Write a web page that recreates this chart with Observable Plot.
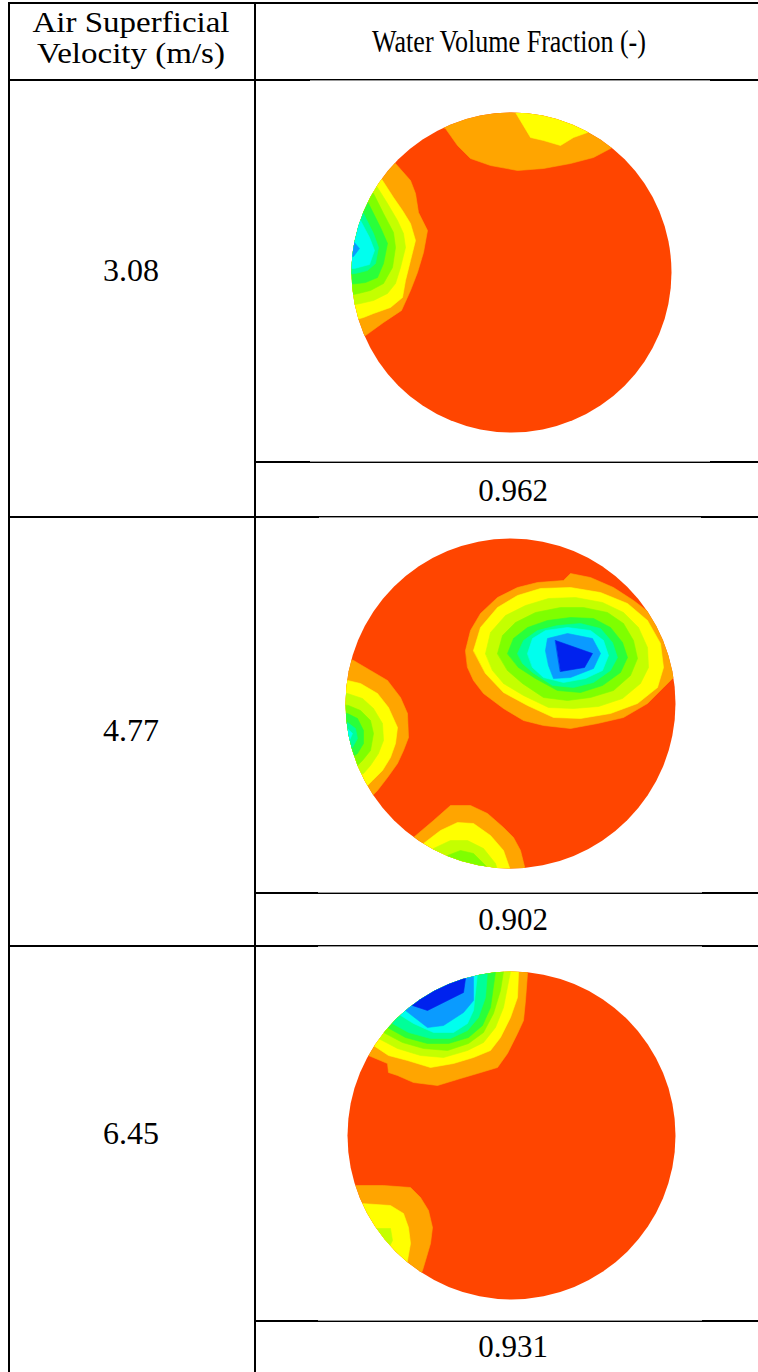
<!DOCTYPE html>
<html><head><meta charset="utf-8">
<script src="https://cdn.jsdelivr.net/npm/d3@7"></script>
<script src="https://cdn.jsdelivr.net/npm/@observablehq/plot@0.6"></script>
<style>
html,body{margin:0;padding:0;background:#fff;}
#page{position:relative;width:758px;height:1372px;overflow:hidden;font-family:"Liberation Serif","Times New Roman",serif;color:#000;background:#fff;}
.hl{position:absolute;height:2px;background:#000;}
.wl{position:absolute;height:1px;background:#fff;}
.vl{position:absolute;width:2px;background:#000;}
.txt{position:absolute;white-space:nowrap;line-height:1;text-align:center;}
.panel{position:absolute;}
</style></head><body><div id="page"></div>
<script>
// ---------------- data ----------------
const headerLeft = ["Air Superficial", "Velocity (m/s)"];
const headerRight = "Water Volume Fraction (-)";
const velocities = ["3.08", "4.77", "6.45"];
const volumeFractions = ["0.962", "0.902", "0.931"];

// contour levels (1 = just below full water, 9 = lowest water fraction)
const levels = [1, 2, 3, 4, 5, 6, 7, 8, 9];
const levelColors = ["#FFA500", "#FFFF00", "#C4FF00", "#7FFF00", "#2AFF3A", "#00FF99", "#00FFEE", "#0A9BFF", "#0022EE"];
const baseColor = "#FF4500";

// contour band outlines, in pixels from the pipe centre (y downward)
const bands308 = [
  {blob: "top", level: 1, pts: [[-66,-144],[-54,-127],[-41,-114],[-21,-107],[6,-102],[32,-104],[59,-109],[82,-115],[99,-124],[140,-150],[130,-190],[-90,-190],[-90,-150]]},
  {blob: "top", level: 2, pts: [[4,-160],[19,-135],[32,-132],[49,-127],[62,-135],[76,-140],[100,-170],[0,-190]]},
  {blob: "left", level: 1, pts: [[-116,-109],[-101,-92],[-96,-79],[-93,-60],[-84,-42],[-88,-20],[-94,0],[-101,18],[-110,38],[-128,50],[-146,63],[-200,80],[-200,-130],[-140,-130]]},
  {blob: "left", level: 2, pts: [[-129,-92],[-118,-75],[-109,-62],[-101,-49],[-96,-32],[-101,-12],[-106,8],[-109,25],[-121,35],[-138,41],[-148,45],[-200,60],[-200,-110],[-140,-110]]},
  {blob: "left", level: 3, pts: [[-134,-85],[-124,-69],[-114,-52],[-108,-39],[-106,-25],[-111,-5],[-116,11],[-124,21],[-138,28],[-151,31],[-200,40],[-200,-100],[-145,-95]]},
  {blob: "left", level: 4, pts: [[-138,-79],[-128,-59],[-118,-40],[-116,-25],[-119,-5],[-128,11],[-141,18],[-153,21],[-200,30],[-200,-90],[-150,-88]]},
  {blob: "left", level: 5, pts: [[-143,-69],[-131,-45],[-124,-29],[-128,-9],[-134,5],[-146,10],[-154,11],[-200,15],[-200,-80],[-150,-78]]},
  {blob: "left", level: 6, pts: [[-148,-59],[-138,-39],[-133,-25],[-136,-9],[-144,-2],[-156,1],[-200,5],[-200,-70],[-155,-65]]},
  {blob: "left", level: 7, pts: [[-151,-52],[-142,-35],[-137,-22],[-142,-8],[-157,-4],[-200,-5],[-200,-60]]},
  {blob: "left", level: 8, pts: [[-158,-31],[-152,-24],[-158,-16],[-200,-18],[-200,-32]]}
];

const bands477 = [
  {blob: "main", level: 1, pts: [[-45,-53],[-40,-73],[-30,-90],[-13,-106],[7,-116],[27,-121],[53,-123],[60,-130],[80,-126],[103,-116],[123,-103],[140,-90],[200,-110],[210,-20],[163,-26],[153,-16],[137,0],[113,14],[87,20],[60,25],[33,22],[13,17],[-7,5],[-27,-10],[-37,-23],[-43,-36]]},
  {blob: "main", level: 2, pts: [[-37,-53],[-30,-76],[-13,-96],[7,-108],[30,-115],[60,-116],[90,-111],[117,-100],[137,-83],[150,-60],[153,-36],[147,-16],[127,0],[100,10],[70,15],[43,14],[17,2],[-7,-11],[-25,-30]]},
  {blob: "main", level: 3, pts: [[-25,-50],[-20,-71],[-5,-88],[15,-98],[38,-105],[65,-106],[92,-101],[113,-91],[128,-76],[137,-56],[138,-36],[130,-20],[112,-5],[88,3],[63,5],[38,4],[13,-8],[-7,-20],[-18,-33]]},
  {blob: "main", level: 4, pts: [[-13,-50],[-8,-68],[5,-81],[25,-91],[50,-96],[73,-96],[97,-91],[113,-80],[123,-63],[127,-45],[120,-28],[103,-13],[80,-6],[57,-3],[33,-6],[12,-20],[-3,-33]]},
  {blob: "main", level: 5, pts: [[-3,-50],[3,-65],[17,-76],[37,-83],[60,-86],[83,-85],[100,-76],[112,-61],[117,-46],[110,-31],[92,-18],[70,-11],[47,-13],[25,-25],[8,-36]]},
  {blob: "main", level: 6, pts: [[7,-50],[13,-63],[27,-73],[47,-78],[70,-80],[90,-75],[102,-61],[107,-46],[100,-33],[83,-21],[63,-16],[42,-18],[22,-31],[12,-40]]},
  {blob: "main", level: 7, pts: [[17,-50],[22,-65],[35,-73],[57,-76],[80,-73],[93,-63],[98,-48],[92,-33],[75,-25],[53,-21],[33,-26],[22,-36]]},
  {blob: "main", level: 8, pts: [[35,-53],[37,-65],[57,-70],[82,-65],[90,-50],[83,-35],[60,-26],[43,-25],[38,-38]]},
  {blob: "main", level: 9, pts: [[45,-63],[82,-50],[74,-36],[50,-32]]},
  {blob: "left", level: 1, pts: [[-157,-43],[-140,-33],[-123,-23],[-110,-6],[-103,10],[-102,34],[-107,47],[-113,60],[-123,74],[-133,87],[-140,94],[-200,120],[-200,-60]]},
  {blob: "left", level: 2, pts: [[-163,-23],[-150,-20],[-133,-10],[-122,4],[-113,24],[-115,40],[-120,54],[-128,67],[-138,77],[-145,84],[-200,100],[-200,-30]]},
  {blob: "left", level: 3, pts: [[-163,-10],[-148,-5],[-137,5],[-128,20],[-127,37],[-132,50],[-140,62],[-147,70],[-200,85],[-200,-15]]},
  {blob: "left", level: 4, pts: [[-162,2],[-150,7],[-140,17],[-137,30],[-140,47],[-148,57],[-155,64],[-200,75],[-200,-2]]},
  {blob: "left", level: 5, pts: [[-163,10],[-153,15],[-147,27],[-147,40],[-153,50],[-160,55],[-200,60],[-200,5]]},
  {blob: "left", level: 6, pts: [[-163,19],[-155,25],[-153,35],[-158,44],[-163,47],[-200,50],[-200,15]]},
  {blob: "left", level: 7, pts: [[-163,25],[-158,30],[-162,39],[-200,40],[-200,25]]},
  {blob: "bottom", level: 1, pts: [[-97,134],[-77,117],[-60,102],[-40,102],[-23,110],[-7,124],[3,134],[10,147],[15,167],[40,210],[-140,210]]},
  {blob: "bottom", level: 2, pts: [[-87,140],[-70,127],[-53,119],[-37,120],[-20,132],[-7,147],[0,167],[20,210],[-130,210]]},
  {blob: "bottom", level: 3, pts: [[-77,145],[-60,137],[-43,137],[-27,145],[-15,160],[0,210],[-120,210]]},
  {blob: "bottom", level: 4, pts: [[-63,152],[-50,147],[-37,150],[-23,164],[-10,210],[-100,210]]}
];

const bands645 = [
  {blob: "top", level: 1, pts: [[-143,-80],[-124,-72],[-123,-63],[-114,-60],[-98,-53],[-74,-50],[-51,-57],[-34,-62],[-14,-68],[-4,-82],[6,-102],[12,-115],[14,-135],[16,-162],[20,-210],[-200,-210],[-200,-90]]},
  {blob: "top", level: 2, pts: [[-138,-90],[-123,-80],[-104,-75],[-81,-68],[-58,-72],[-38,-78],[-21,-85],[-11,-98],[-1,-118],[6,-138],[7,-162],[10,-210],[-200,-210],[-200,-100]]},
  {blob: "top", level: 3, pts: [[-133,-97],[-114,-87],[-91,-80],[-68,-78],[-44,-85],[-28,-93],[-16,-108],[-8,-128],[-1,-164],[0,-210],[-200,-210],[-200,-110]]},
  {blob: "top", level: 4, pts: [[-128,-103],[-109,-93],[-88,-87],[-64,-85],[-43,-92],[-28,-103],[-18,-122],[-11,-145],[-8,-164],[-8,-210],[-200,-210],[-200,-115]]},
  {blob: "top", level: 5, pts: [[-124,-108],[-106,-98],[-84,-92],[-63,-92],[-43,-98],[-29,-110],[-21,-128],[-16,-164],[-16,-210],[-200,-210],[-200,-120]]},
  {blob: "top", level: 6, pts: [[-121,-113],[-103,-103],[-81,-97],[-61,-97],[-44,-105],[-33,-118],[-26,-138],[-24,-164],[-24,-210],[-200,-210],[-200,-125]]},
  {blob: "top", level: 7, pts: [[-114,-122],[-98,-112],[-78,-103],[-58,-103],[-44,-112],[-38,-125],[-34,-162],[-34,-210],[-200,-210],[-200,-135]]},
  {blob: "top", level: 8, pts: [[-106,-125],[-84,-108],[-68,-110],[-48,-123],[-38,-135],[-38,-158],[-40,-210],[-200,-210],[-200,-140]]},
  {blob: "top", level: 9, pts: [[-99,-130],[-84,-125],[-48,-143],[-46,-157],[-60,-220],[-160,-200]]},
  {blob: "bottom", level: 1, pts: [[-153,50],[-128,50],[-101,52],[-91,62],[-83,75],[-79,92],[-81,108],[-86,125],[-89,135],[-120,200],[-220,120],[-200,50]]},
  {blob: "bottom", level: 2, pts: [[-150,68],[-121,70],[-108,78],[-103,92],[-101,108],[-104,125],[-110,170],[-220,120],[-200,68]]},
  {blob: "bottom", level: 3, pts: [[-134,93],[-121,93],[-119,105],[-124,115],[-150,170],[-200,93]]}
];

// ---------------- layout ----------------
const page = document.getElementById("page");
const lineSpecs = {
  h: [ // [x0, x1, y]
    [8, 758, 2], [8, 758, 79], [254, 758, 461], [8, 758, 516],
    [254, 758, 892], [8, 758, 945], [254, 758, 1320]
  ],
  v: [ // [x, y0, y1]
    [8, 2, 1372], [254, 2, 1372]
  ],
  // parts of the rules that the pasted contour pictures partly cover: [x0, x1, y]
  covered: [
    [310, 710, 80], [310, 710, 461], [319, 701, 517],
    [318, 702, 892], [318, 702, 946], [318, 702, 1320]
  ]
};
const panelGeom = [
  {cx: 511, cy: 272, r: 160, bands: bands308},
  {cx: 510, cy: 703, r: 165, bands: bands477},
  {cx: 511, cy: 1135, r: 164, bands: bands645}
];
const velocityPos = [[131, 270], [131, 730], [131, 1133]];
const fractionPos = [[513, 490], [513, 919], [513, 1346]];
const headerLeftPos = [[131, 22], [131, 53]];

function addText(str, x, y, size, sx) {
  const d = document.createElement("div");
  d.className = "txt";
  d.textContent = str;
  d.style.left = x + "px";
  d.style.top = y + "px";
  d.style.fontSize = size + "px";
  d.style.transform = `translate(-50%,-50%) scaleX(${sx || 1})`;
  page.appendChild(d);
}

// panels (drawn first, rules on top)
panelGeom.forEach((p, i) => {
  const pad = 4;
  const ext = p.r + pad;
  const rows = [];
  p.bands.forEach((b) => {
    b.pts.forEach(([x, y]) => rows.push({id: `${b.blob}-${b.level}`, level: b.level, x, y}));
  });
  const plot = Plot.plot({
    width: 2 * ext,
    height: 2 * ext,
    margin: 0,
    x: {domain: [-ext, ext], axis: null},
    y: {domain: [ext, -ext], axis: null},
    color: {type: "ordinal", domain: levels, range: levelColors},
    style: {background: "transparent", overflow: "visible"},
    marks: [
      Plot.dot([{x: 0, y: 0}], {x: "x", y: "y", r: p.r, fill: baseColor, stroke: "none"}),
      Plot.line(rows, {x: "x", y: "y", z: "id", fill: "level", stroke: "level", strokeWidth: 0.6, curve: "linear-closed"})
    ]
  });
  const svg = d3.select(plot);
  const sx = plot.scale("x"), sy = plot.scale("y");
  const clipId = "pipe-clip-" + i;
  svg.append("defs").append("clipPath").attr("id", clipId)
    .append("circle").attr("cx", sx.apply(0)).attr("cy", sy.apply(0)).attr("r", p.r);
  svg.selectAll('g[aria-label="line"]').attr("clip-path", `url(#${clipId})`);
  const holder = document.createElement("div");
  holder.className = "panel";
  holder.style.left = (p.cx - ext) + "px";
  holder.style.top = (p.cy - ext) + "px";
  holder.appendChild(plot);
  page.appendChild(holder);
});

lineSpecs.h.forEach(([x0, x1, y]) => {
  const d = document.createElement("div");
  d.className = "hl";
  d.style.left = x0 + "px"; d.style.width = (x1 - x0) + "px"; d.style.top = y + "px";
  page.appendChild(d);
});
lineSpecs.covered.forEach(([x0, x1, y]) => {
  const d = document.createElement("div");
  d.className = "wl";
  d.style.left = x0 + "px"; d.style.width = (x1 - x0) + "px"; d.style.top = y + "px";
  d.style.opacity = 0.6;
  page.appendChild(d);
});
lineSpecs.v.forEach(([x, y0, y1]) => {
  const d = document.createElement("div");
  d.className = "vl";
  d.style.left = x + "px"; d.style.top = y0 + "px"; d.style.height = (y1 - y0) + "px";
  page.appendChild(d);
});

headerLeft.forEach((t, i) => addText(t, headerLeftPos[i][0], headerLeftPos[i][1], 30, 1.1));
addText(headerRight, 509, 41, 31, 0.84);
velocities.forEach((v, i) => addText(v, velocityPos[i][0], velocityPos[i][1], 32));
volumeFractions.forEach((v, i) => addText(v, fractionPos[i][0], fractionPos[i][1], 31));
</script></body></html>
